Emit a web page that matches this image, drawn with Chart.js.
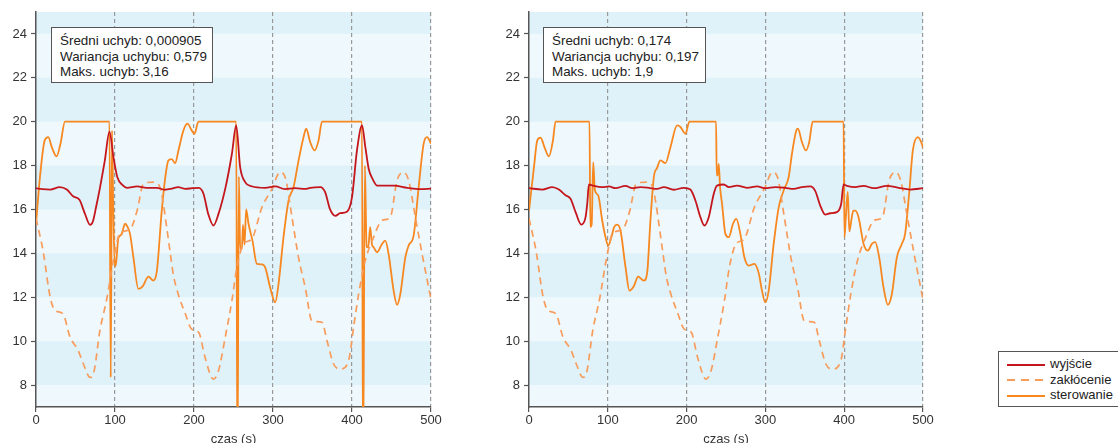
<!DOCTYPE html>
<html>
<head>
<meta charset="utf-8">
<script src="https://cdn.jsdelivr.net/npm/chart.js@4"></script>
<style>
  body { margin: 0; width: 1118px; height: 443px; overflow: hidden; background: #fff;
         font-family: "Liberation Sans", Arial, sans-serif; position: relative; }
  .panel { position: absolute; top: 0; width: 445px; height: 452px; }
  .stats { position: absolute; top: 27px; height: 56px; box-sizing: border-box; border: 1px solid #555;
           background: #fff; font-size: 13.4px; color: #222; line-height: 15.5px; padding: 5px 0 0 8px; white-space: nowrap; }
  .legend { position: absolute; left: 998px; top: 351px; width: 130px; height: 56px; box-sizing: border-box;
            border: 1px solid #555; background: #fff; font-size: 13px; color: #222; padding-top: 4px; }
  .legend div { height: 15.6px; line-height: 15.6px; white-space: nowrap; }
  .legend svg { vertical-align: middle; margin: 0 5px 0 8px; }
</style>
</head>
<body>
<div class="panel" style="left:0"><canvas id="chartL"></canvas></div>
<div class="panel" style="left:490px"><canvas id="chartR"></canvas></div>

<div class="stats" style="left:51px;width:162px">Średni uchyb: 0,000905<br>Wariancja uchybu: 0,579<br>Maks. uchyb: 3,16</div>
<div class="stats" style="left:543px;width:163px">Średni uchyb: 0,174<br>Wariancja uchybu: 0,197<br>Maks. uchyb: 1,9</div>

<div class="legend">
  <div><svg width="38" height="4"><line x1="0" y1="2" x2="38" y2="2" stroke="#c4161c" stroke-width="2"/></svg>wyjście</div>
  <div><svg width="38" height="4"><line x1="0" y1="2" x2="38" y2="2" stroke="#f89c5c" stroke-width="2" stroke-dasharray="8,6"/></svg>zakłócenie</div>
  <div><svg width="38" height="4"><line x1="0" y1="2" x2="38" y2="2" stroke="#f7871f" stroke-width="2"/></svg>sterowanie</div>
</div>

<script>
const xTicks = [0, 100, 200, 300, 400, 500];
const yTicks = [8, 10, 12, 14, 16, 18, 20, 22, 24];
const darkBands = [[8, 10], [12, 14], [16, 18], [20, 22], [24, 25]];

// zakłócenie (same in both panels)
const distT = [0, 9, 18, 24, 34, 43, 53.6, 60, 68.4, 72.6, 81, 90, 98, 106, 119, 128, 136, 149, 157, 161, 165, 170, 174, 180, 189, 197, 206, 214, 224.6, 231, 239.5, 248, 254.3, 262.7, 273.2, 286, 298.6, 309, 315.4, 324, 332.3, 340.8, 349.3, 362, 368.4, 376.7, 385.2, 395.7, 402, 408.4, 416.8, 427.4, 438, 448.5, 457, 465.4, 471.7, 480.2, 488.7, 497, 500];
const distY = [15.6, 14.1, 12.0, 11.4, 11.25, 10.2, 9.56, 8.96, 8.35, 8.5, 10.5, 12.0, 13.7, 14.9, 15.1, 15.95, 17.17, 17.25, 17.0, 16.3, 15.3, 14.0, 13.0, 12.15, 11.25, 10.55, 10.4, 9.26, 8.27, 8.65, 10.17, 11.85, 13.37, 14.43, 14.66, 16.1, 16.94, 17.7, 17.47, 15.65, 13.82, 12.45, 10.93, 10.86, 10.02, 8.96, 8.73, 9.11, 10.63, 12.15, 13.67, 14.74, 15.5, 15.65, 17.32, 17.7, 17.32, 15.65, 13.98, 12.45, 11.9];

// left panel
const outLT = [0, 8, 18, 30, 39, 47, 55, 62, 68.4, 72, 76, 81, 87, 93, 98, 103, 110, 115, 128, 140, 153, 163, 172, 180, 189, 198, 206, 212, 218, 224.6, 231, 240, 248, 253.4, 258.4, 264.7, 273, 290, 303, 315, 328, 341, 347, 360, 366, 372, 379, 385, 394, 400, 406.3, 412.7, 416.9, 421.1, 426, 432, 453, 470, 487, 500];
const outLY = [16.97, 16.93, 16.91, 17.02, 16.91, 16.6, 16.44, 15.8, 15.3, 15.45, 16.1, 17.0, 18.2, 19.55, 18.39, 17.47, 17.1, 16.99, 17.05, 16.99, 16.99, 16.9, 16.95, 17.02, 16.94, 16.97, 16.99, 16.72, 15.8, 15.27, 15.8, 17.02, 18.54, 19.83, 17.93, 17.25, 17.06, 16.99, 17.05, 16.93, 16.97, 16.94, 16.99, 17.02, 16.79, 16.03, 15.71, 15.83, 15.91, 16.56, 18.69, 19.83, 18.84, 17.86, 17.4, 17.09, 17.09, 16.99, 16.93, 16.95];
const ctrlLT = [0, 5, 11, 15.6, 20, 26, 31, 36.7, 93, 94.6, 96.2, 97.8, 99.8, 101.5, 104.3, 108, 112.8, 116, 119, 123.3, 129.6, 135, 142.3, 148.6, 153, 159.2, 163.4, 167.6, 171.8, 176.1, 180.3, 186.6, 191.7, 197.2, 200.6, 205.6, 253.4, 255, 256.8, 258.5, 260.6, 262, 264, 266, 269, 274, 279.6, 285.9, 290, 296.4, 302.8, 307, 313.3, 319.7, 326, 332.4, 338.7, 342, 347.1, 352.6, 357.7, 362, 412.6, 414, 416.3, 418.5, 420.6, 423, 425.3, 427.4, 431.7, 438, 442.1, 446.3, 452.7, 457, 461.2, 467.5, 471.7, 478, 484.4, 490.7, 495, 500];
const ctrlLY = [15.35, 17.47, 19.15, 19.3, 18.84, 18.42, 19.0, 20, 20, 8.35, 19.6, 16.0, 13.4, 13.6, 14.7, 14.85, 15.35, 15.2, 14.89, 13.82, 12.38, 12.5, 12.94, 12.76, 13.2, 15.95, 17.4, 18.24, 18.3, 18.11, 18.69, 19.6, 19.91, 19.6, 19.45, 20, 20, 4, 17.5, 14.2, 14.2, 15.3, 14.4, 16.0, 15.35, 14.58, 13.52, 13.5, 13.37, 12.45, 11.77, 12.61, 14.74, 16.41, 17.02, 18.24, 19.3, 19.68, 19.07, 18.69, 19.15, 20, 20, 4, 18.0, 14.3, 14.28, 15.2, 14.4, 14.28, 14.05, 14.43, 14.58, 13.98, 12.3, 11.66, 12.15, 13.82, 14.36, 14.81, 17.02, 19.0, 19.3, 19.0];

// right panel
const outRT = [0, 16.9, 29.5, 38, 46.4, 52.7, 59.1, 66.3, 71.8, 74, 76, 80, 92.9, 101.4, 109.8, 122.4, 130.9, 141.5, 152, 162.6, 171, 183.8, 196.4, 204.8, 211.2, 217.5, 222.6, 228.1, 234.5, 238.6, 247.1, 253.5, 264, 276.7, 289.4, 299.9, 312.6, 325.2, 335.9, 346.4, 356.9, 363.2, 369.6, 375.9, 382.3, 390.7, 396.2, 399.2, 403.5, 414, 424.6, 437.3, 454.2, 468.9, 483.7, 500];
const outRY = [16.97, 16.91, 17.02, 16.91, 16.65, 16.49, 15.88, 15.31, 15.65, 16.3, 17.14, 17.1, 17.02, 17.05, 16.97, 17.08, 16.97, 17.02, 16.99, 16.94, 17.02, 16.9, 16.99, 16.91, 16.41, 15.65, 15.27, 15.65, 16.72, 17.09, 17.14, 17.02, 17.09, 16.99, 17.05, 16.97, 17.02, 16.99, 16.94, 17.02, 17.05, 16.85, 16.18, 15.77, 15.83, 15.88, 16.26, 17.14, 17.08, 17.02, 17.08, 16.97, 17.08, 16.99, 16.91, 16.97];
const ctrlRT = [0, 6.3, 10.5, 14.7, 20.3, 25.3, 30.4, 33.7, 76.8, 77.8, 79.5, 81.5, 83.5, 87.8, 92.9, 97.1, 100.5, 104.5, 108, 111.9, 116.1, 122.5, 127.5, 133, 138.5, 145.7, 149.9, 154.1, 158.4, 162.6, 166.8, 173.1, 179.5, 188, 192.2, 198.5, 203.6, 237.4, 238.2, 239.5, 240.8, 242.5, 245, 249.2, 253.5, 258.9, 263.1, 268.2, 273.3, 278.8, 285.9, 291.5, 295.7, 299.9, 304.2, 310.5, 316.9, 323.2, 329.5, 333.7, 339.2, 341.3, 346.4, 351.5, 355.6, 360, 399.2, 400.3, 402, 404.5, 406.5, 409, 411.5, 414, 418.2, 424.6, 430, 435.1, 439.3, 444.4, 449.9, 455.4, 460.5, 466.8, 473.1, 477.3, 482.4, 487.1, 493.4, 498.5, 500];
const ctrlRY = [15.95, 17.93, 19.15, 19.27, 18.77, 18.42, 19.15, 20, 20, 15.2, 15.3, 18.16, 16.9, 16.64, 15.5, 14.74, 14.36, 14.74, 15.2, 15.31, 15.04, 13.37, 12.3, 12.5, 12.94, 12.76, 13.1, 15.5, 17.47, 17.9, 18.24, 18.11, 18.84, 19.83, 19.76, 19.45, 20, 20, 17.55, 17.6, 18.08, 17.0, 16.26, 14.89, 14.74, 15.35, 15.57, 14.89, 13.82, 13.44, 13.52, 13.1, 12.3, 11.77, 12.3, 14.43, 16.1, 16.87, 17.47, 18.54, 19.6, 19.68, 19.07, 18.69, 19.07, 20, 20, 14.74, 15.6, 16.8, 15.0, 15.5, 15.95, 15.95, 15.65, 14.43, 14.13, 14.43, 14.51, 13.82, 12.45, 11.66, 12.15, 13.82, 14.43, 14.89, 16.72, 18.69, 19.3, 19.0, 18.8];

const RED = '#c4161c';
const ORANGE = '#f7871f';
const ORANGE_DASH = '#f89c5c';

const pts = (ts, ys) => ts.map((t, i) => ({ x: t, y: ys[i] }));

// alternating background stripes
const bandsPlugin = {
  id: 'bands',
  beforeDraw(chart) {
    const { ctx, chartArea: a, scales: { y } } = chart;
    ctx.save();
    ctx.fillStyle = '#eff8fd';
    ctx.fillRect(a.left, a.top, a.right - a.left, a.bottom - a.top);
    ctx.fillStyle = '#dff2fa';
    darkBands.forEach(([lo, hi]) => {
      const top = y.getPixelForValue(hi);
      const bot = y.getPixelForValue(lo);
      ctx.fillRect(a.left, top, a.right - a.left, bot - top);
    });
    ctx.restore();
  }
};

function makeChart(id, yWidth, rightPad, outT, outY, ctrlT, ctrlY) {
  const tickFont = { family: '"Liberation Sans", Arial, sans-serif', size: 13 };
  return new Chart(document.getElementById(id), {
    type: 'line',
    data: {
      datasets: [
        { label: 'wyjście', data: pts(outT, outY), borderColor: RED, borderWidth: 1.8 },
        { label: 'zakłócenie', data: pts(distT, distY), borderColor: ORANGE_DASH, borderWidth: 1.7, borderDash: [7, 5] },
        { label: 'sterowanie', data: pts(ctrlT, ctrlY), borderColor: ORANGE, borderWidth: 1.8 }
      ]
    },
    options: {
      responsive: false,
      animation: false,
      elements: { point: { radius: 0 }, line: { cubicInterpolationMode: 'monotone' } },
      layout: { padding: { top: 12, right: rightPad, left: 0, bottom: 0 } },
      plugins: { legend: { display: false }, tooltip: { enabled: false } },
      scales: {
        x: {
          type: 'linear', min: 0, max: 500,
          afterBuildTicks: s => { s.ticks = xTicks.map(v => ({ value: v })); },
          afterFit: s => { s.height = 45; },
          ticks: { color: '#333', font: tickFont, padding: 1, maxRotation: 0 },
          grid: {
            color: c => c.tick && c.tick.value === 0 ? 'rgba(0,0,0,0)' : '#999',
            lineWidth: 1.2, tickLength: 5, tickColor: '#555', tickWidth: 1.2
          },
          border: { color: '#555', width: 1.5, dash: [4, 3] },
          title: { display: true, text: 'czas (s)', color: '#333', font: tickFont, padding: { top: 0, bottom: 5 } }
        },
        y: {
          min: 7, max: 25,
          afterBuildTicks: s => { s.ticks = yTicks.map(v => ({ value: v })); },
          afterFit: s => { s.width = yWidth; },
          ticks: { color: '#333', font: tickFont, padding: 4 },
          grid: { drawOnChartArea: false, tickLength: 5, tickColor: '#555', tickWidth: 1.2 },
          border: { color: '#555', width: 1.5 }
        }
      }
    },
    plugins: [bandsPlugin]
  });
}

for (const id of ['chartL', 'chartR']) {
  const c = document.getElementById(id);
  c.width = 445; c.height = 452;
}
makeChart('chartL', 36, 14, outLT, outLY, ctrlLT, ctrlLY);
makeChart('chartR', 39, 12, outRT, outRY, ctrlRT, ctrlRY);
</script>
</body>
</html>
